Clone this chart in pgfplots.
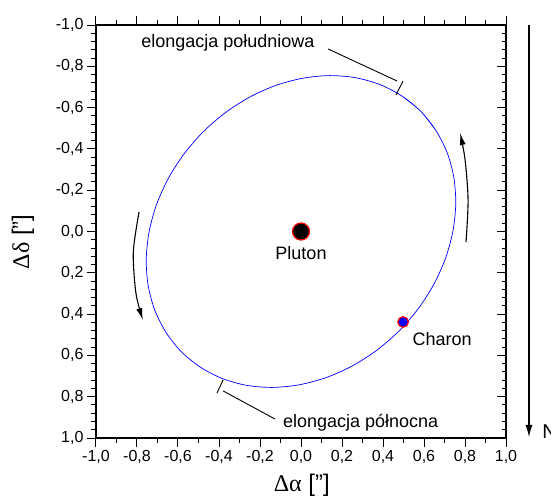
\documentclass[border=0pt]{standalone}
\usepackage{fontspec}
\setmainfont{Liberation Sans}
\newfontfamily\grk{Liberation Serif}
\usepackage{pgfplots}
\pgfplotsset{compat=1.18}
\usetikzlibrary{arrows.meta}
\begin{document}
\begin{tikzpicture}
\begin{axis}[
  at={(0,0)}, anchor=south west,
  scale only axis, width=410pt, height=413pt,
  xmin=-1, xmax=1, ymin=-1, ymax=1, y dir=reverse,
  clip=false,
  xtick={-1,-0.8,-0.6,-0.4,-0.2,0,0.2,0.4,0.6,0.8,1},
  xticklabels={{-1,0},{-0,8},{-0,6},{-0,4},{-0,2},{0,0},{0,2},{0,4},{0,6},{0,8},{1,0}},
  ytick={-1,-0.8,-0.6,-0.4,-0.2,0,0.2,0.4,0.6,0.8,1},
  yticklabels={{-1,0},{-0,8},{-0,6},{-0,4},{-0,2},{0,0},{0,2},{0,4},{0,6},{0,8},{1,0}},
  minor x tick num=1, minor y tick num=4,
  xtick pos=both, ytick pos=left,
  tick align=outside,
  major tick length=9pt, minor tick length=5pt,
  tick style={black, line width=1pt},
  axis line style={line width=1.3pt},
  tick label style={font=\fontsize{16}{19}\selectfont},
  xlabel={{\grk Δα} [\symbol{34}]},
  ylabel={{\grk Δδ} [\symbol{34}]},
  xlabel style={font=\fontsize{24}{28}\selectfont, at={(axis description cs:0.502,-0.114)}, anchor=center},
  ylabel style={font=\fontsize{24}{28}\selectfont, at={(axis description cs:-0.178,0.475)}, anchor=center, rotate=0},
]
% orbit
\addplot[blue, line width=0.7pt, smooth] coordinates {
(0.491,-0.657) (0.583,-0.583) (0.657,-0.491) (0.712,-0.384) (0.745,-0.265)
(0.755,-0.138) (0.742,-0.007) (0.707,0.124) (0.650,0.252) (0.574,0.371)
(0.480,0.480) (0.371,0.574) (0.252,0.650) (0.124,0.707) (-0.007,0.742)
(-0.138,0.755) (-0.265,0.745) (-0.384,0.712) (-0.491,0.657) (-0.583,0.583)
(-0.657,0.491) (-0.712,0.384) (-0.745,0.265) (-0.755,0.138) (-0.742,0.007)
(-0.707,-0.124) (-0.650,-0.252) (-0.574,-0.371) (-0.480,-0.480) (-0.371,-0.574)
(-0.252,-0.650) (-0.124,-0.707) (0.007,-0.742) (0.138,-0.755) (0.265,-0.745)
(0.384,-0.712) (0.491,-0.657) (0.583,-0.583) (0.657,-0.491)
};
% direction arrows
\addplot[black, line width=1.1pt, smooth, -{Latex[length=12pt,width=6pt]}] coordinates {(-0.790,-0.094) (-0.818,0.100) (-0.805,0.300) (-0.771,0.429)};
\addplot[black, line width=1.1pt, smooth, -{Latex[length=12pt,width=6pt]}] coordinates {(0.805,0.051) (0.815,-0.153) (0.800,-0.350) (0.776,-0.477)};
% elongation markers
\addplot[black, line width=0.9pt] coordinates {(0.463,-0.661) (0.498,-0.729)};
\addplot[black, line width=0.9pt] coordinates {(0.132,-0.884) (0.468,-0.729)};
\addplot[black, line width=0.9pt] coordinates {(-0.410,0.782) (-0.380,0.719)};
\addplot[black, line width=0.9pt] coordinates {(-0.380,0.772) (-0.127,0.908)};
% N arrow
\addplot[black, line width=1.1pt, -{Latex[length=12pt,width=7pt]}] coordinates {(1.112,-1.0) (1.112,0.995)};
% bodies
\addplot[only marks, mark=*, mark size=8.5pt, mark options={fill=black, draw=red, line width=1.2pt}] coordinates {(0,0)};
\addplot[only marks, mark=*, mark size=5.3pt, mark options={fill=blue, draw=red, line width=1.2pt}] coordinates {(0.498,0.438)};
% texts
\node[font=\fontsize{18}{21}\selectfont, anchor=center] at (axis cs:0,0.104) {Pluton};
\node[font=\fontsize{18}{21}\selectfont, anchor=center] at (axis cs:0.688,0.521) {Charon};
\node[font=\fontsize{18}{21}\selectfont, anchor=west, inner sep=0pt] at (axis cs:-0.780,-0.913) {elongacja południowa};
\node[font=\fontsize{18}{21}\selectfont, anchor=west, inner sep=0pt] at (axis cs:-0.088,0.927) {elongacja północna};
\node[font=\fontsize{20}{24}\selectfont, anchor=west, inner sep=0pt] at (axis cs:1.176,0.971) {N};
\end{axis}
\begin{axis}[
  at={(0,0)}, anchor=south west,
  scale only axis, width=410pt, height=413pt,
  xmin=-1, xmax=1, ymin=-1, ymax=1, y dir=reverse,
  xtick=\empty,
  ytick={-1,-0.8,-0.6,-0.4,-0.2,0,0.2,0.4,0.6,0.8,1},
  yticklabels={},
  minor y tick num=4,
  ytick pos=right, tick align=inside,
  major tick length=9pt, minor tick length=4.5pt,
  tick style={black, line width=1pt},
  axis line style={draw=none},
]
\end{axis}
\pgfresetboundingbox
\useasboundingbox (-96pt,-59pt) rectangle (455pt,438pt);
\end{tikzpicture}
\end{document}
